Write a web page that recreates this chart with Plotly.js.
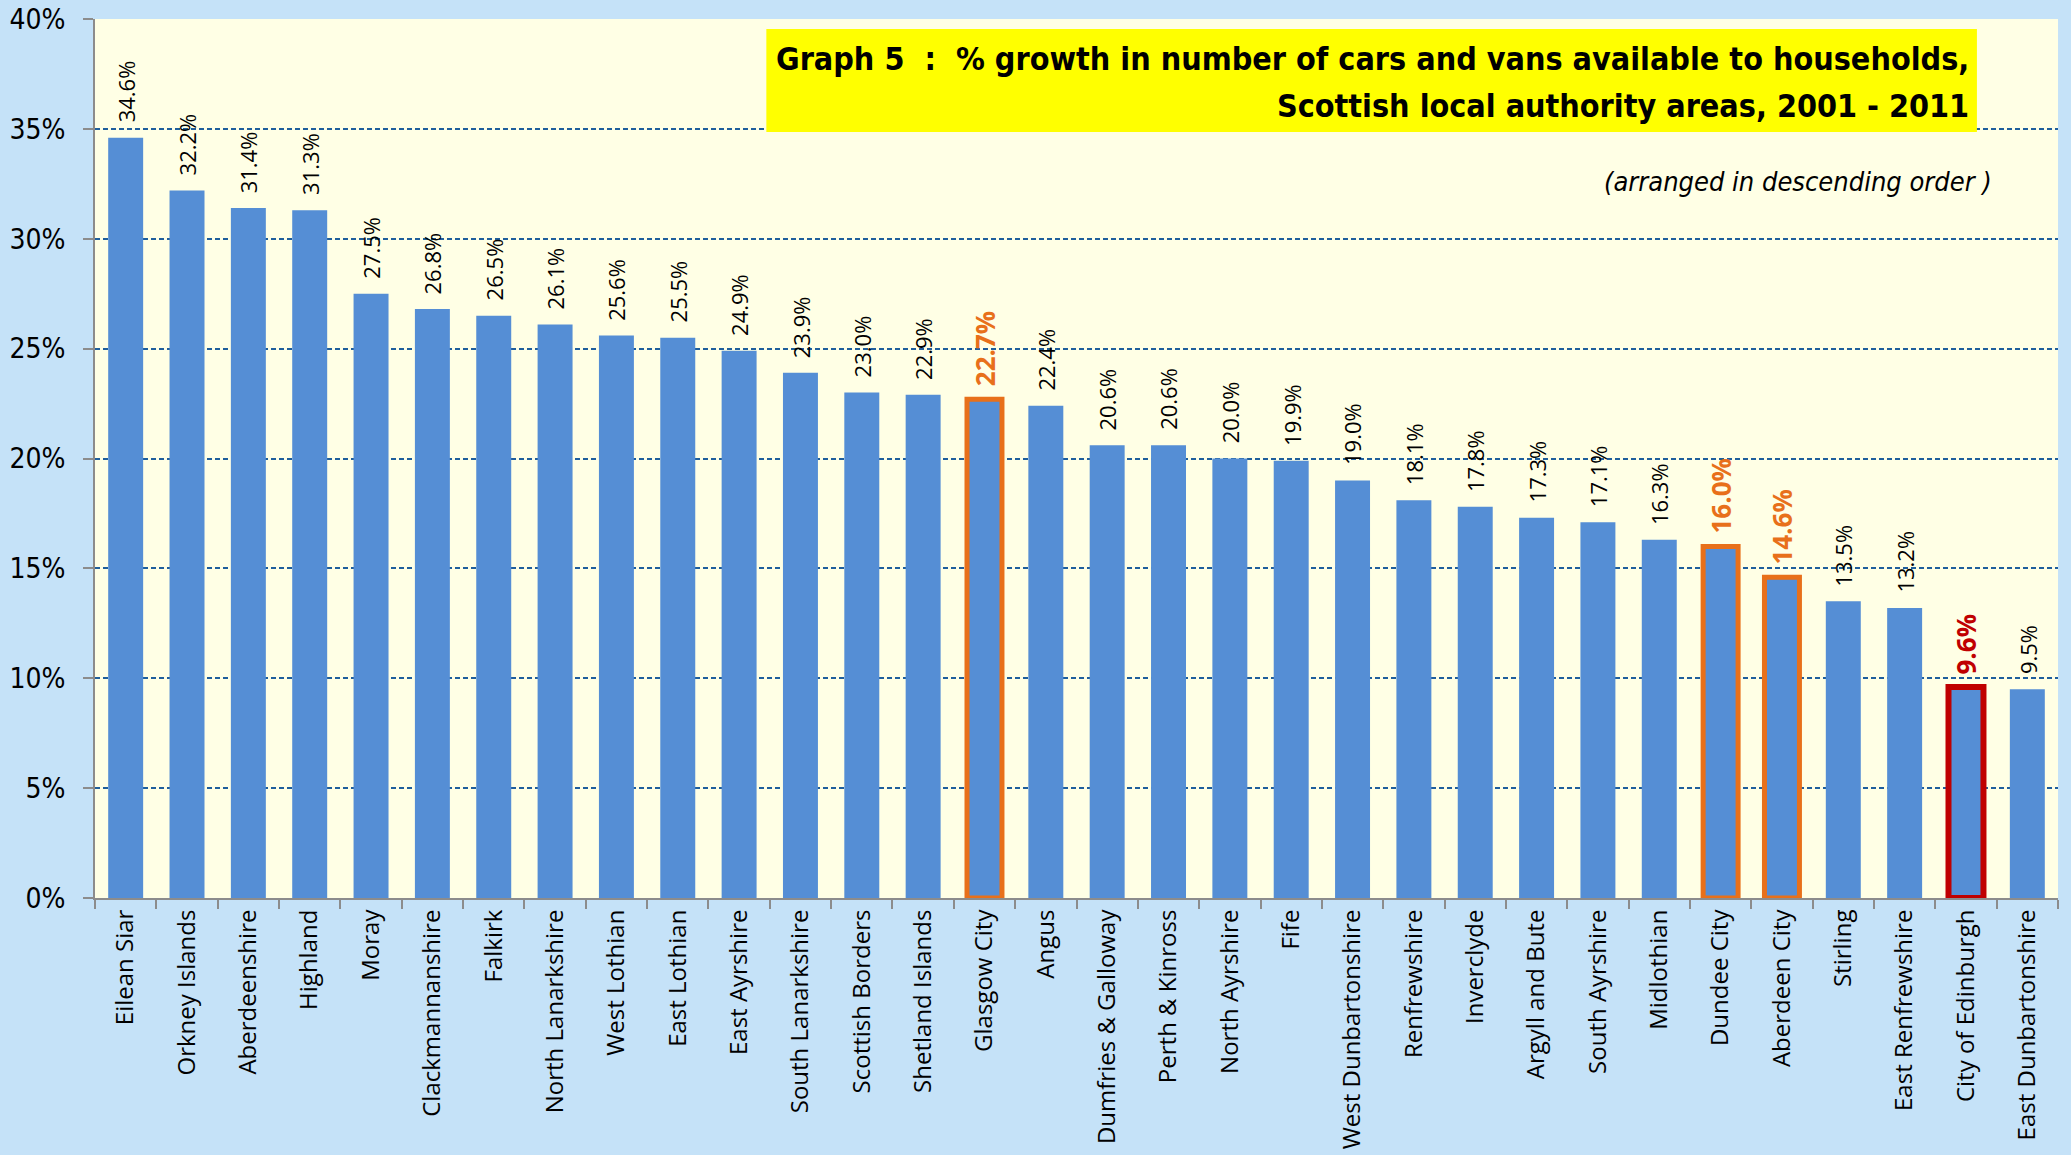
<!DOCTYPE html>
<html>
<head>
<meta charset="utf-8">
<script src="https://cdn.plot.ly/plotly-3.0.1.min.js"></script>
<style>html,body{margin:0;padding:0;background:#C5E2F8;}</style>
</head>
<body>
<div id="chart" style="width:2071px;height:1155px;"></div>
<script>
const areas = ['Eilean Siar','Orkney Islands','Aberdeenshire','Highland','Moray','Clackmannanshire','Falkirk','North Lanarkshire','West Lothian','East Lothian','East Ayrshire','South Lanarkshire','Scottish Borders','Shetland Islands','Glasgow City','Angus','Dumfries & Galloway','Perth & Kinross','North Ayrshire','Fife','West Dunbartonshire','Renfrewshire','Inverclyde','Argyll and Bute','South Ayrshire','Midlothian','Dundee City','Aberdeen City','Stirling','East Renfrewshire','City of Edinburgh','East Dunbartonshire'];
const growthPct = [34.6,32.2,31.4,31.3,27.5,26.8,26.5,26.1,25.6,25.5,24.9,23.9,23.0,22.9,22.7,22.4,20.6,20.6,20.0,19.9,19.0,18.1,17.8,17.3,17.1,16.3,16.0,14.6,13.5,13.2,9.6,9.5];
const orangeAreas = ['Glasgow City','Dundee City','Aberdeen City'];
const redAreas = ['City of Edinburgh'];
const yTicks = [0,0.05,0.10,0.15,0.20,0.25,0.30,0.35,0.40];

const titleLine1 = 'Graph 5  :  % growth in number of cars and vans available to households,';
const titleLine2 = 'Scottish local authority areas, 2001 - 2011';
const subtitleText = '(arranged in descending order )';

const ORANGE = '#E8701A', RED = '#C00000';
const yVals = growthPct.map(v => v / 100);
const kind = areas.map(a => orangeAreas.includes(a) ? 'o' : (redAreas.includes(a) ? 'r' : ''));

const lineColors = kind.map(k => k === 'o' ? ORANGE : (k === 'r' ? RED : 'rgba(0,0,0,0)'));
const lineWidths = kind.map(k => k === '' ? 0 : (k === 'r' ? 6 : 5));

const narrow = '"Liberation Sans Narrow", "DejaVu Sans Condensed", "Arial Narrow", sans-serif';
const labelFont = '"Open Sans", "DejaVu Sans", sans-serif';

const annotations = areas.map((a, i) => {
  const k = kind[i];
  return {
    x: a, y: yVals[i], xref: 'x', yref: 'y',
    text: k === '' ? growthPct[i].toFixed(1) + '%' : '<b>' + growthPct[i].toFixed(1) + '%</b>',
    textangle: -90, showarrow: false,
    xanchor: 'center', yanchor: 'bottom', yshift: k === '' ? 13 : 11,
    font: {family: labelFont, size: k === '' ? 22 : 26, color: k === 'o' ? ORANGE : (k === 'r' ? RED : '#000000')}
  };
});

const titleFont = {family: narrow, size: 32, color: '#000000', weight: 'bold'};
annotations.push({
  xref: 'paper', yref: 'paper', x: 0.9557, y: 0.954, xanchor: 'right', yanchor: 'middle',
  text: titleLine1, showarrow: false, font: titleFont
});
annotations.push({
  xref: 'paper', yref: 'paper', x: 0.9557, y: 0.9005, xanchor: 'right', yanchor: 'middle',
  text: titleLine2, showarrow: false, font: titleFont
});
annotations.push({
  xref: 'paper', yref: 'paper', x: 0.9675, y: 0.8155, xanchor: 'right', yanchor: 'middle',
  text: '<i>' + subtitleText + '</i>', showarrow: false,
  font: {family: narrow, size: 27, color: '#000000'}
});

const trace = {
  type: 'bar', x: areas, y: yVals,
  marker: {color: '#558ED5', line: {color: lineColors, width: lineWidths}},
  hoverinfo: 'x+y'
};

const layout = {
  width: 2071, height: 1155,
  margin: {l: 95, r: 13, t: 19, b: 257},
  paper_bgcolor: '#C5E2F8', plot_bgcolor: '#FFFFE5',
  bargap: 0.43, showlegend: false,
  xaxis: {
    type: 'category', tickangle: -90, ticks: 'outside', tickson: 'boundaries',
    ticklen: 9, tickwidth: 2, tickcolor: '#8C8C8C',
    showline: true, linecolor: '#8C8C8C', linewidth: 2, showgrid: false,
    tickfont: {family: labelFont, size: 24, color: '#000000'}, automargin: false
  },
  yaxis: {
    range: [0, 0.4], tickvals: yTicks, tickformat: '.0%',
    ticks: 'outside', ticklen: 10, tickwidth: 2, tickcolor: '#8C8C8C',
    showline: true, linecolor: '#8C8C8C', linewidth: 2,
    showgrid: true, gridcolor: '#1F5E9C', gridwidth: 2, griddash: '5px,3px',
    zeroline: false, ticklabelstandoff: 12,
    tickfont: {family: narrow, size: 28, color: '#000000'}, automargin: false
  },
  shapes: [{
    type: 'rect', xref: 'paper', yref: 'paper', x0: 0.342, x1: 0.9587, y0: 0.8714, y1: 0.9886,
    fillcolor: '#FFFF00', line: {width: 0}, layer: 'above'
  }],
  annotations: annotations
};

Plotly.newPlot('chart', [trace], layout, {displayModeBar: false, staticPlot: true});
</script>
</body>
</html>
